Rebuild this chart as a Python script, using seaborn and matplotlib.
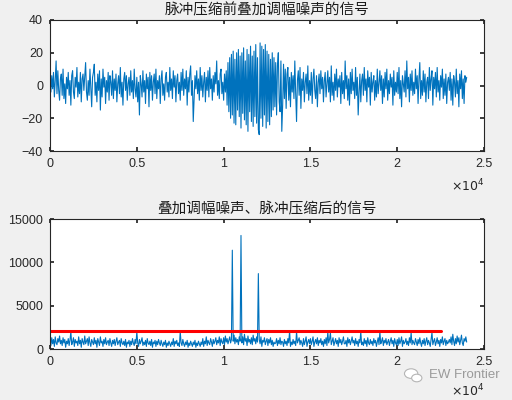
"""Pulse compression with AM noise jamming: before / after compression."""

import matplotlib

matplotlib.use("Agg")
import matplotlib.pyplot as plt
import numpy as np
import pandas as pd
import seaborn as sns
from matplotlib.patches import Ellipse

# samples, one every 50 points (one row = 1000 points)
sample_step = 50

top_signal = [
    2, -4, 6, -2, 8, -7, 3, 15, -5, 9, -3, -9, 4, 7, -6, 10, -8, 1, -11, 5,
    -2, 8, -6, 3, -12, 6, 9, -4, -8, 5, -1, 11, -7, 2, -5, 8, -10, 4, 7, -3,
    6, 14, -4, -9, 3, -6, 10, -2, -13, 5, 8, 13, -6, 2, -10, 7, -3, 9, -15, 4,
    -7, 10, -1, 5, -11, 3, -4, 8, -9, 6, 2, -6, 9, -8, 4, -3, 7, -10, 1, 6,
    -5, 11, -7, 2, -12, 4, 8, -3, 6, -9, 1, 5, -6, 9, -4, 3, -8, 10, -2, -7,
    5, -10, 2, -18, 6, 1, -7, 9, -4, 3, -11, 7, -2, 5, -13, 8, -3, 6, -9, 2,
    7, -5, 10, -8, 3, -2, 6, -11, 4, 9, -6, 1, -9, 5, 8, -4, 2, -7, 11, -3,
    4, -8, 9, -1, 6, -10, 3, 7, -5, 2, -9, 8, -3, 10, -6, 4, -2, 9, -12, 5,
    -4, 7, 12, -6, 3, -22, -8, 6, -2, 9, -5, 4, -9, 11, -3, 6, -7, 2, 8, -10,
    5, -3, 9, -7, 11, -2, 4, -9, 6, -4, 8, 1, 15, -6, 3, -8, 7, 10, -5, 2,
    -9, 7, -4, 9, -12, 14, -16, 17, -20, 19, -18, 21, -23, 16, -24, 20, -15, 22, -19, 18,
    -26, 20, -17, 23, -21, 15, -24, 22, -28, 19, -16, 24, -22, 18, -25, 21, -19, 25, -23, 17,
    -27, -30, 26, -20, 24, -25, 22, -18, 25, -26, 21, -22, 19, -24, 16, -19, 20, -15, 17, -13,
    14, -18, 12, 20, -10, -16, 15, -28, -12, 13, -8, 10, -14, 7, 11, -9, 5, -13, 8, -4,
    6, -8, 15, -5, -22, 3, 9, -6, 11, -14, 4, -3, 8, -10, 2, 7, -5, 12, -9, 3,
    -6, 8, -11, 4, 10, -3, -8, 6, -13, 2, 7, -5, 9, -2, 5, -10, 3, 8, -7, 1,
    9, -4, 5, -10, 12, -6, 2, -9, 7, -3, 10, -7, 4, -1, 6, -11, 8, -5, 3, -8,
    15, -2, 6, -9, 4, -12, 8, -5, 10, -3, 2, -8, 11, -6, 5, -18, -4, 7, -10, 3,
    7, -6, 11, -3, 4, -10, 9, -1, 5, -12, 8, -4, 2, 6, -9, 3, -7, 10, -5, 1,
    9, -3, 6, -11, 4, -7, 8, -2, 10, -9, 3, -5, 7, -1, 5, -12, 9, -6, 2, -4,
    8, -5, 11, -8, 3, -13, 6, 1, -4, 9, -7, 15, -2, 5, -10, 7, -3, 9, -6, 2,
    -5, 10, -2, 6, -11, 4, 14, -8, 3, -6, 9, -4, 7, -10, 2, 5, -8, 11, -3, 4,
    9, -12, 5, -2, 8, -7, 11, -4, 3, -9, 6, -1, 10, -8, 4, -6, 7, -11, 2, 5,
    -3, 8, -9, 4, -12, 6, 2, -7, 10, -5, 3, -13, 7, -2, 9, -8, 4, -11, 6, 2,
    5,
]

bottom_signal = [
    900, 400, 1300, 600, 1100, 300, 1400, 700, 500, 1200, 800, 1500, 600, 1000, 400, 1300, 700, 1100, 200, 900,
    600, 1200, 400, 1000, 2000, 500, 800, 1300, 300, 1100, 700, 900, 400, 1400, 600, 1000, 200, 1200, 800, 500,
    1500, 600, 900, 1200, 400, 1400, 700, 300, 1100, 800, 500, 1300, 600, 1000, 200, 1200, 800, 400, 1400, 700,
    900, 300, 1100, 600, 1300, 500, 800, 1000, 400, 1200, 700, 300, 1000, 600, 1100, 400, 900, 1300, 500, 800,
    1000, 300, 1200, 700, 500, 900, 400, 1100, 200, 800, 600, 1000, 300, 900, 500, 1200, 700, 400, 1100, 600,
    2000, 700, 300, 1100, 600, 900, 1300, 400, 800, 500, 1000, 300, 1200, 700, 500, 900, 400, 1100, 200, 800,
    600, 1000, 300, 900, 500, 1100, 700, 400, 1000, 600, 300, 800, 500, 1000, 200, 700, 400, 900, 600, 300,
    800, 500, 1200, 300, 900, 600, 1000, 400, 700, 300, 2000, 700, 400, 1100, 600, 300, 800, 500, 1000, 200,
    700, 400, 900, 600, 300, 800, 500, 1000, 200, 700, 400, 900, 600, 300, 800, 500, 1200, 300, 900, 600,
    1400, 400, 1000, 700, 500, 1200, 800, 300, 1100, 600, 900, 1300, 500, 1000, 700, 1400, 400, 1200, 800, 600,
    1300, 500, 1500, 800, 1200, 600, 1000, 1400, 700, 1100, 11400, 900, 1600, 600, 1300, 800, 1100, 500, 1400, 900,
    13100, 700, 1400, 500, 1700, 900, 1200, 400, 1500, 800, 1100, 600, 1300, 500, 1600, 900, 1200, 600, 1400, 800,
    8700, 1100, 600, 1400, 300, 1000, 800, 1300, 500, 900, 1200, 400, 1100, 700, 1300, 500, 1000, 300, 800, 600,
    700, 1200, 400, 1000, 600, 1300, 500, 900, 800, 300, 1100, 600, 900, 400, 1200, 700, 2100, 300, 800, 500,
    1100, 600, 900, 400, 2000, 700, 1000, 1300, 500, 1000, 700, 300, 1200, 500, 900, 1400, 300, 800, 1100, 600,
    1200, 500, 900, 1400, 300, 800, 1100, 600, 1300, 400, 1000, 700, 1200, 500, 900, 300, 1100, 600, 1300, 400,
    2000, 700, 1100, 1900, 500, 900, 1300, 400, 800, 1200, 600, 1000, 300, 1300, 700, 1100, 500, 900, 1400, 600,
    600, 1000, 300, 1300, 700, 1100, 500, 900, 1400, 700, 1000, 400, 1200, 600, 900, 300, 1100, 700, 2000, 500,
    800, 400, 1200, 600, 1000, 300, 1300, 700, 500, 1100, 600, 900, 400, 1200, 700, 1000, 300, 800, 1300, 500,
    2000, 600, 900, 1300, 400, 1000, 700, 1200, 500, 800, 1100, 400, 900, 1300, 600, 1000, 300, 1200, 700, 500,
    1100, 400, 1300, 600, 900, 1400, 300, 1000, 600, 800, 1200, 500, 900, 400, 1300, 700, 1900, 500, 1000, 700,
    500, 1200, 800, 400, 1100, 600, 1300, 700, 300, 1000, 600, 1200, 400, 900, 1300, 500, 1000, 700, 300, 1100,
    1900, 500, 900, 1200, 400, 800, 1300, 600, 1000, 300, 1100, 700, 1400, 500, 900, 1200, 400, 1000, 600, 800,
    1100, 700, 1400, 500, 1700, 900, 400, 1200, 600, 1500, 800, 1300, 500, 1000, 1600, 700, 400, 1200, 900, 1400,
    800,
]

threshold_x = [0, 22500]
threshold_y = [2100, 2100]

x_ticks = [0, 5000, 10000, 15000, 20000, 25000]
x_tick_labels = ["0", "0.5", "1", "1.5", "2", "2.5"]
top_y_ticks = [-40, -20, 0, 20, 40]
bottom_y_ticks = [0, 5000, 10000, 15000]

top_title = "脉冲压缩前叠加调幅噪声的信号"
bottom_title = "叠加调幅噪声、脉冲压缩后的信号"
watermark = "EW Frontier"

LINE_BLUE = "#0072BD"
INK = "#262626"

sns.set_theme(style="white")
plt.rcParams["font.family"] = ["Liberation Sans", "Noto Sans CJK SC", "DejaVu Sans"]
plt.rcParams.update(
    {
        "axes.edgecolor": INK,
        "axes.linewidth": 0.8,
        "xtick.color": INK,
        "ytick.color": INK,
        "xtick.direction": "in",
        "ytick.direction": "in",
        "xtick.major.size": 3,
        "ytick.major.size": 3,
        "xtick.labelsize": 9,
        "ytick.labelsize": 9,
    }
)


def style_axes(ax, y_ticks, title, offset_y):
    ax.set_xlim(0, 25000)
    ax.set_ylim(y_ticks[0], y_ticks[-1])
    ax.set_xticks(x_ticks)
    ax.set_xticklabels(x_tick_labels)
    ax.set_yticks(y_ticks)
    ax.tick_params(top=True, right=True, bottom=True, left=True, pad=5)
    ax.set_xlabel("")
    ax.set_ylabel("")
    ax.set_title(title, family=["Noto Sans CJK SC"], fontsize=10.5, color="#1a1a1a", pad=4)
    ax.text(1.0, offset_y, r"$\times10^{4}$", transform=ax.transAxes, ha="right", va="center",
            fontsize=9, color=INK)
    if ax.get_legend() is not None:
        ax.get_legend().remove()


fig = plt.figure(figsize=(5.12, 4.0), dpi=100, facecolor="#f0f0f0")
ax_top = fig.add_axes([0.0977, 0.6225, 0.8477, 0.3275])
ax_bot = fig.add_axes([0.0977, 0.1275, 0.8477, 0.325])

top_df = pd.DataFrame({"t": np.arange(len(top_signal)) * sample_step, "amp": top_signal})
bot_df = pd.DataFrame({"t": np.arange(len(bottom_signal)) * sample_step, "amp": bottom_signal})

sns.lineplot(data=top_df, x="t", y="amp", ax=ax_top, color=LINE_BLUE, linewidth=0.8,
             estimator=None, sort=False)
style_axes(ax_top, top_y_ticks, top_title, -0.27)

sns.lineplot(data=bot_df, x="t", y="amp", ax=ax_bot, color=LINE_BLUE, linewidth=0.8,
             estimator=None, sort=False)
sns.lineplot(x=threshold_x, y=threshold_y, ax=ax_bot, color="red", linewidth=2.2,
             estimator=None)
style_axes(ax_bot, bottom_y_ticks, bottom_title, -0.32)

# watermark: chat-bubble icon + name
for cx, cy, w, h in [(0.803, 0.066, 0.026, 0.024), (0.814, 0.055, 0.020, 0.019)]:
    fig.add_artist(Ellipse((cx, cy), w, h, transform=fig.transFigure,
                           facecolor="white", edgecolor="#b5b5b5", linewidth=0.8))
fig.text(0.838, 0.062, watermark, ha="left", va="center", fontsize=9.5, color="#9a9a9a")

fig.savefig("out.png", dpi=100, facecolor=fig.get_facecolor())
plt.close(fig)
